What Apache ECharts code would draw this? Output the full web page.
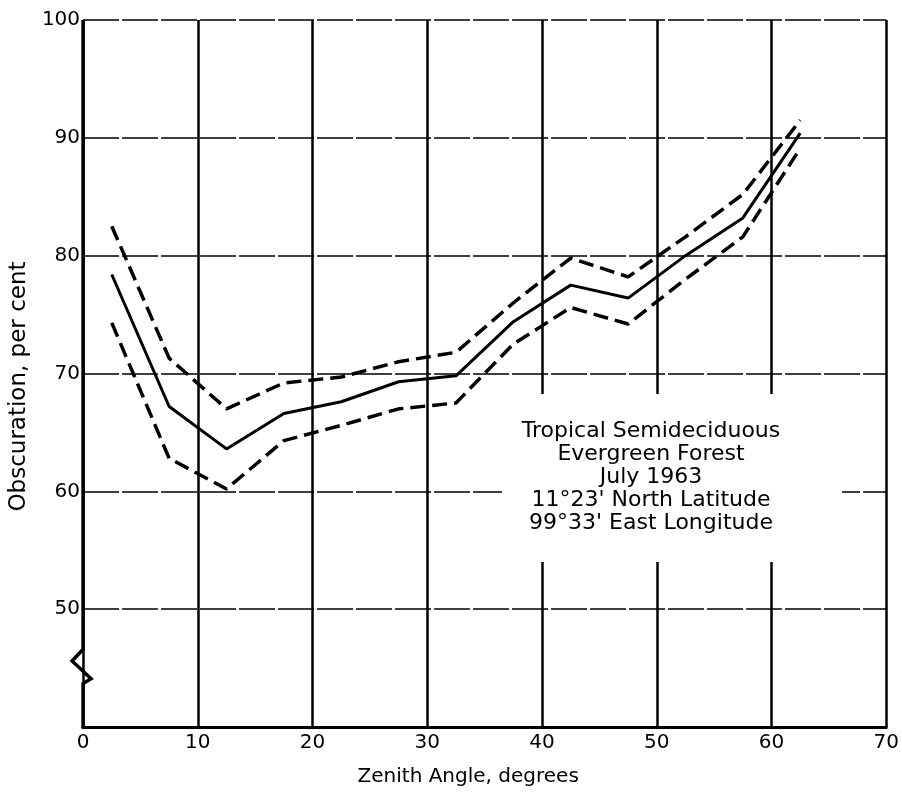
<!DOCTYPE html>
<html>
<head>
<meta charset="utf-8">
<script src="https://cdn.jsdelivr.net/npm/echarts@6/dist/echarts.min.js"></script>
<style>
  html, body { margin: 0; padding: 0; background: #fff; }
  #chart { width: 902px; height: 794px; }
</style>
</head>
<body>
<div id="chart"></div>
<script>
// Zenith angle classes (degrees) and obscuration (per cent)
const zenithAngle = [2.5, 7.5, 12.5, 17.5, 22.5, 27.5, 32.5, 37.5, 42.5, 47.5, 52.5, 57.5, 62.5];
const meanObscuration = [78.4, 67.2, 63.6, 66.6, 67.6, 69.3, 69.8, 74.4, 77.5, 76.4, 80.0, 83.2, 90.4];
const upperLimit = [82.5, 71.3, 67.0, 69.2, 69.7, 71.0, 71.8, 76.0, 79.8, 78.2, 81.6, 85.2, 91.5];
const lowerLimit = [74.3, 62.8, 60.2, 64.3, 65.6, 67.0, 67.5, 72.5, 75.6, 74.2, 78.0, 81.6, 89.1];

// Axis ranges and tick labels
const xTickLabels = [0, 10, 20, 30, 40, 50, 60, 70];
const yTickLabels = [50, 60, 70, 80, 90, 100];
const yBreakValues = [43.7, 44.1, 45.6, 46.6];

const siteNote = [
  'Tropical Semideciduous',
  'Evergreen Forest',
  'July 1963',
  '11\u00b023\' North Latitude',
  '99\u00b033\' East Longitude'
];

const FONT = '"DejaVu Sans", "Liberation Sans", sans-serif';

const pair = (xs, ys) => xs.map((x, i) => [x, ys[i]]);

const chart = echarts.init(document.getElementById('chart'), null, { renderer: 'canvas' });

const option = {
  animation: false,
  backgroundColor: '#fff',
  grid: { left: 79, right: 12, top: 20, bottom: 67, containLabel: false },
  xAxis: {
    type: 'value',
    min: xTickLabels[0],
    max: xTickLabels[xTickLabels.length - 1],
    interval: 10,
    name: 'Zenith Angle, degrees',
    nameLocation: 'middle',
    nameGap: 40,
    nameTextStyle: { color: '#000', fontSize: 20, fontFamily: FONT, padding: [0, 33, 0, 0] },
    axisLine: { show: true, lineStyle: { color: '#000', width: 3 } },
    axisTick: { show: false },
    axisLabel: {
      color: '#000', fontSize: 20, fontFamily: FONT, margin: 6,
      formatter: v => xTickLabels.includes(v) ? String(v) : ''
    },
    splitLine: { show: true, lineStyle: { color: '#000', width: 2.5 } }
  },
  yAxis: {
    type: 'value',
    min: 40,
    max: yTickLabels[yTickLabels.length - 1],
    interval: 10,
    name: 'Obscuration, per cent',
    nameLocation: 'middle',
    nameRotate: 90,
    nameGap: 47,
    nameTextStyle: { color: '#000', fontSize: 23, fontFamily: FONT, padding: [0, 26, 0, 0] },
    axisLine: { show: false },
    axisTick: { show: false },
    axisLabel: {
      color: '#000', fontSize: 20, fontFamily: FONT, margin: 3,
      formatter: v => yTickLabels.includes(v) ? String(v) : ''
    },
    splitLine: { show: true, lineStyle: { color: '#000', width: 1.6, type: [36, 3] } }
  },
  series: [
    {
      name: 'Mean',
      type: 'line',
      data: pair(zenithAngle, meanObscuration),
      symbol: 'none',
      lineStyle: { color: '#000', width: 3 },
      z: 5
    },
    {
      name: 'Upper',
      type: 'line',
      data: pair(zenithAngle, upperLimit),
      symbol: 'none',
      lineStyle: { color: '#000', width: 3.5, type: [15, 7] },
      z: 5
    },
    {
      name: 'Lower',
      type: 'line',
      data: pair(zenithAngle, lowerLimit),
      symbol: 'none',
      lineStyle: { color: '#000', width: 3.5, type: [15, 7] },
      z: 5
    },
    {
      // Value axis line with a break symbol below 50
      name: 'Axis',
      type: 'custom',
      clip: false,
      silent: true,
      z: 6,
      data: [[0, 40]],
      renderItem: (params, api) => {
        const at = v => api.coord([0, v]);
        const shift = (p, dx) => [p[0] + dx, p[1]];
        const base = at(40);
        const pts = [
          [base[0], base[1] + 1.5],
          at(yBreakValues[0]),
          shift(at(yBreakValues[1]), 8),
          shift(at(yBreakValues[2]), -11),
          at(yBreakValues[3]),
          at(100)
        ];
        return {
          type: 'polyline',
          shape: { points: pts },
          style: { stroke: '#000', lineWidth: 3.5, fill: null, lineJoin: 'miter' }
        };
      }
    }
  ],
  graphic: [
    {
      type: 'rect',
      z: 100,
      shape: { x: 502, y: 394, width: 340, height: 168 },
      style: { fill: '#fff' }
    },
    {
      type: 'text',
      z: 101,
      x: 651,
      y: 420,
      style: {
        text: siteNote.join('\n'),
        font: '22px ' + FONT,
        fill: '#000',
        textAlign: 'center',
        textVerticalAlign: 'top',
        lineHeight: 23
      }
    }
  ]
};

chart.setOption(option);
</script>
</body>
</html>
